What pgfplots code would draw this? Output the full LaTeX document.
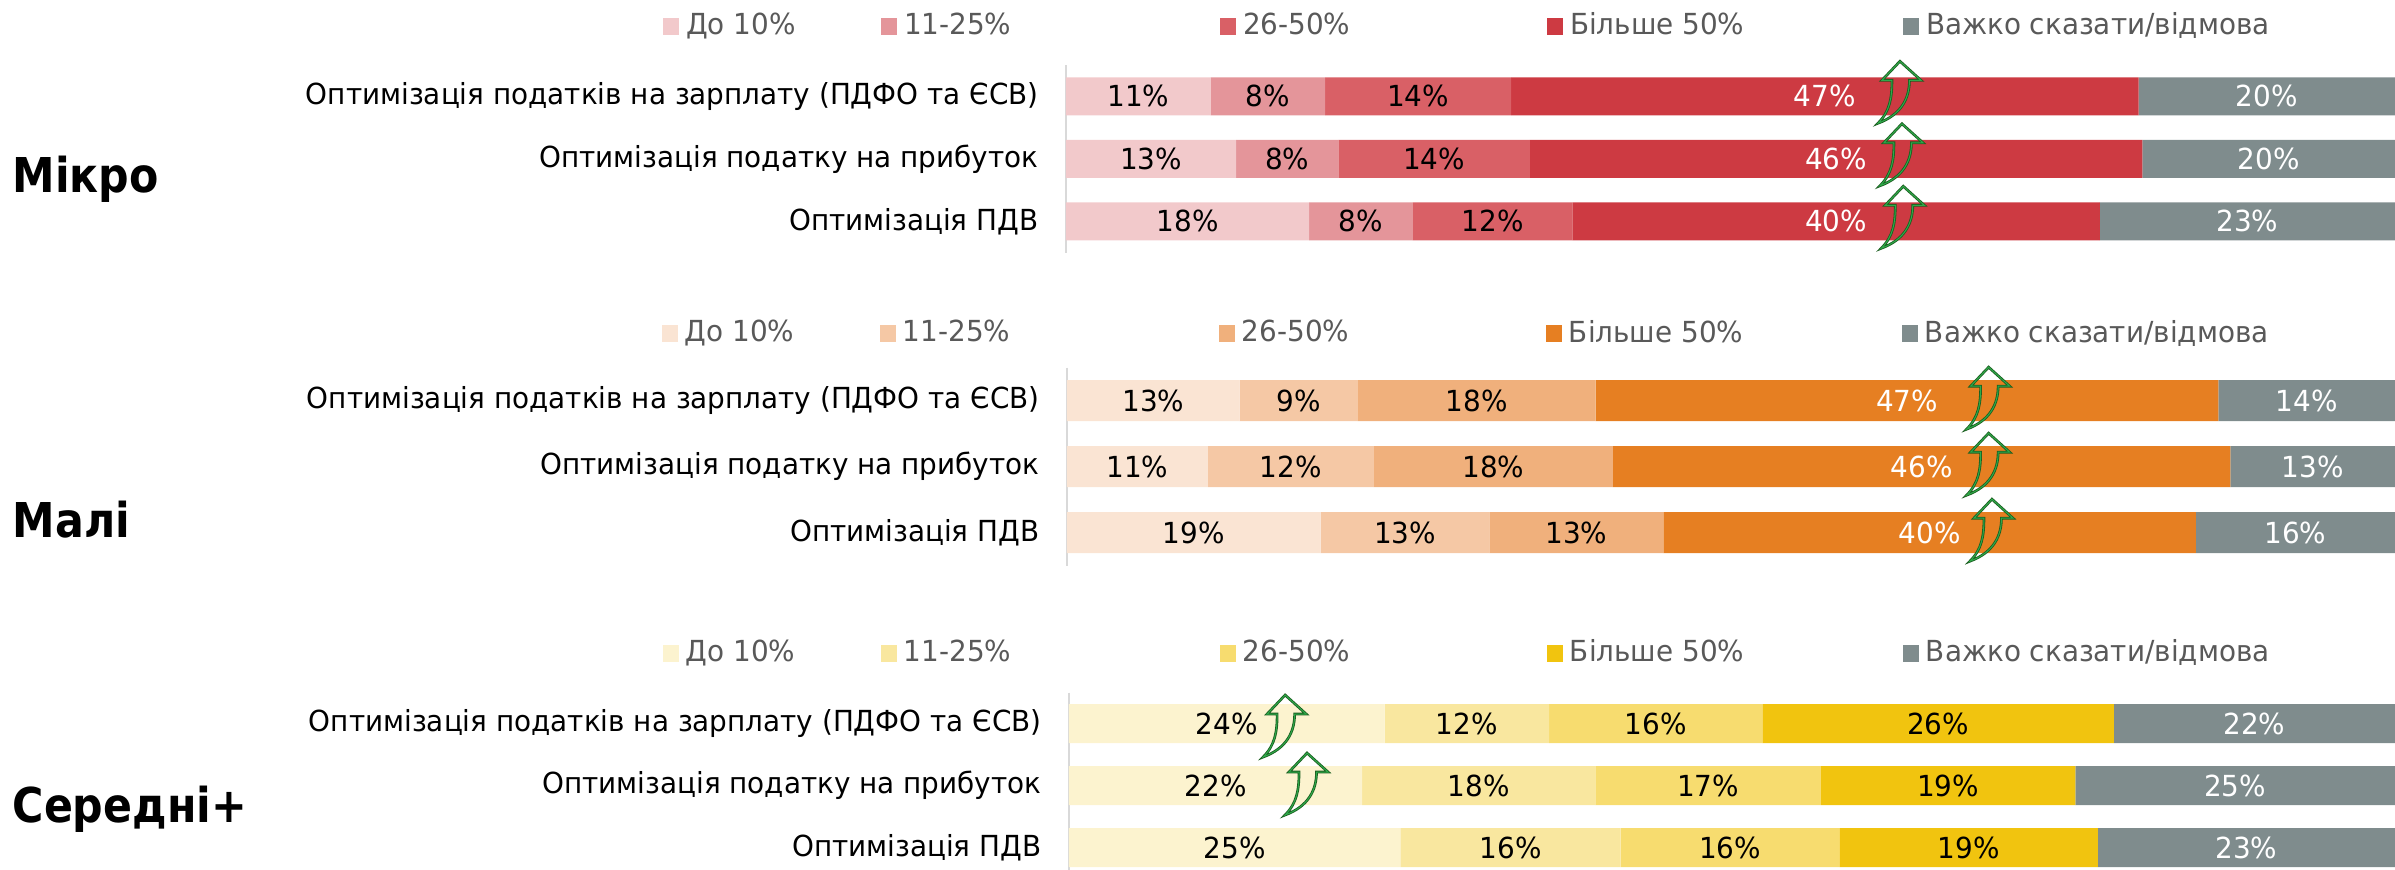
\documentclass[border=0pt]{standalone}
\usepackage{pgfplots}
\pgfplotsset{compat=1.18}
\usepackage{pgfplotstable}
\usepackage{fontspec}
\setmainfont[FakeStretch=0.96]{DejaVu Sans}
\newfontfamily\titlefam[FakeStretch=0.89]{DejaVu Sans}
\newcommand\lbl{\fontsize{8.7pt}{10pt}\selectfont}
\newcommand\ttl{\titlefam\fontsize{14.4pt}{16pt}\selectfont\bfseries}

\definecolor{m1}{HTML}{F2C9CB}\definecolor{m2}{HTML}{E4959A}\definecolor{m3}{HTML}{D96066}\definecolor{m4}{HTML}{CD3A42}
\definecolor{s1}{HTML}{FAE4D3}\definecolor{s2}{HTML}{F5C8A5}\definecolor{s3}{HTML}{F0B07C}\definecolor{s4}{HTML}{E67F22}
\definecolor{y1}{HTML}{FCF3CF}\definecolor{y2}{HTML}{F9E79F}\definecolor{y3}{HTML}{F7DC6F}\definecolor{y4}{HTML}{F1C40F}
\definecolor{gr}{HTML}{7F8C8D}
\definecolor{axisgray}{HTML}{D9D9D9}
\definecolor{legtext}{HTML}{595959}
\definecolor{arrdark}{HTML}{1B5E20}
\definecolor{arrlight}{HTML}{2EAA4A}

\pgfplotstableread{
row a b c d e la lb lc ld le
0 10.9 8.6 14.0 47.2 19.3 11 8 14 47 20
1 12.8 7.7 14.4 46.1 19.0 13 8 14 46 20
2 18.3 7.8 12.0 39.7 22.2 18 8 12 40 23
}\microtab
\pgfplotstableread{
row a b c d e la lb lc ld le
0 13.0 8.9 17.9 46.9 13.3 13 9 18 47 14
1 10.6 12.5 18.0 46.5 12.4 11 12 18 46 13
2 19.1 12.7 13.1 40.1 15.0 19 13 13 40 16
}\smalltab
\pgfplotstableread{
row a b c d e la lb lc ld le
0 23.8 12.4 16.1 26.5 21.2 24 12 16 26 22
1 22.1 17.6 17.0 19.2 24.1 22 18 17 19 25
2 25.0 16.6 16.5 19.5 22.4 25 16 16 19 23
}\mediumtab

% label positions: middle of each stacked segment
\newcommand\addcenters[1]{%
  \pgfplotstablecreatecol[create col/expr={\thisrow{a}/2}]{ca}{#1}%
  \pgfplotstablecreatecol[create col/expr={\thisrow{a}+\thisrow{b}/2}]{cb}{#1}%
  \pgfplotstablecreatecol[create col/expr={\thisrow{a}+\thisrow{b}+\thisrow{c}/2}]{cc}{#1}%
  \pgfplotstablecreatecol[create col/expr={\thisrow{a}+\thisrow{b}+\thisrow{c}+\thisrow{d}/2}]{cd}{#1}%
  \pgfplotstablecreatecol[create col/expr={\thisrow{a}+\thisrow{b}+\thisrow{c}+\thisrow{d}+\thisrow{e}/2}]{ce}{#1}%
}
\addcenters{\microtab}
\addcenters{\smalltab}
\addcenters{\mediumtab}

\tikzset{arr/.style={draw=arrdark, double=arrlight, double distance=0.3pt, line width=0.25pt},
  uparrow/.pic={\draw[arr] (0,0) -- (6.3pt,-5.7pt) -- (2.85pt,-5.7pt)
    .. controls (2.85pt,-11pt) and (0.5pt,-16pt) .. (-6.6pt,-18.6pt)
    .. controls (-3pt,-15pt) and (-2.4pt,-11pt) .. (-2.4pt,-5.7pt)
    -- (-5.4pt,-5.7pt) -- cycle;}}
\pgfplotsset{
  legsq/.style={legend image code/.code={\fill[##1] (0pt,-2.55pt) rectangle (4.8pt,2.55pt);}},
  gm/.style={at={(319.8pt,-19.5pt)}, anchor=north west, width=398.7pt, height=56.25pt, bar width=11.4pt},
  gs/.style={at={(320.1pt,-110.25pt)}, anchor=north west, width=398.4pt, height=59.4pt, bar width=12.3pt},
  gd/.style={at={(320.7pt,-207.75pt)}, anchor=north west, width=397.8pt, height=55.8pt, bar width=11.7pt},
  grp/.style={
    scale only axis, xmin=0, xmax=100, ymin=-0.5, ymax=2.5, y dir=reverse,
    xbar stacked,
    axis lines*=left, x axis line style={draw=none},
    y axis line style={draw=axisgray, line width=0.6pt},
    xtick=\empty, ytick={0,1,2},
    yticklabels={Оптимізація податків на зарплату (ПДФО та ЄСВ),Оптимізація податку на прибуток,Оптимізація ПДВ},
    major tick length=0pt,
    yticklabel style={font=\lbl, text=black, inner sep=0pt, xshift=-8.1pt},
    legend columns=5,
    legend style={anchor=west, draw=none, fill=none, inner sep=0pt, outer sep=0pt,
      column sep=0pt, font=\lbl, text=legtext,
      /tikz/every odd column/.append style={column sep=2.1pt},
      nodes={inner sep=0pt}},
  },
  % overlay axis for the value labels (rows at y = -row)
  lblaxis/.style={scale only axis, xmin=0, xmax=100, ymin=-2.5, ymax=0.5,
    hide axis, clip=false,
    point meta=explicit symbolic,
    nodes near coords={\pgfplotspointmeta\%},
    every node near coord/.append style={font=\lbl, anchor=center, inner sep=0pt}},
  lblplot/.style={only marks, mark=text, text mark={}, every node near coord/.append style={text=#1}},
}
% arrow anchor point in axis coordinates; arrow drawn after the axis
\newcommand\arrpt[3]{\coordinate (#1) at (axis cs:#2,-#3);}
\newcommand\drawarr[2]{\path (#1) ++(0pt,#2) pic {uparrow};}

\newcommand\segplots[5]{%
  \addplot[fill=#2, draw=none, legsq] table[x=a, y=row] {#1};
  \addlegendentry{\makebox[58.5pt][l]{До 10\%}}
  \addplot[fill=#3, draw=none, legsq] table[x=b, y=row] {#1};
  \addlegendentry{\makebox[94.8pt][l]{11-25\%}}
  \addplot[fill=#4, draw=none, legsq] table[x=c, y=row] {#1};
  \addlegendentry{\makebox[91.2pt][l]{26-50\%}}
  \addplot[fill=#5, draw=none, legsq] table[x=d, y=row] {#1};
  \addlegendentry{\makebox[99.9pt][l]{Більше 50\%}}
  \addplot[fill=gr, draw=none, legsq] table[x=e, y=row] {#1};
  \addlegendentry{Важко сказати/відмова}
}
\newcommand\lblplots[2]{%
  \addplot[lblplot=black] table[x=ca, y expr=-\thisrow{row}, meta=la] {#1};
  \addplot[lblplot=black] table[x=cb, y expr=-\thisrow{row}, meta=lb] {#1};
  \addplot[lblplot=black] table[x=cc, y expr=-\thisrow{row}, meta=lc] {#1};
  \addplot[lblplot=#2] table[x=cd, y expr=-\thisrow{row}, meta=ld] {#1};
  \addplot[lblplot=white] table[x=ce, y expr=-\thisrow{row}, meta=le] {#1};
}

\begin{document}
\begin{tikzpicture}
\path[use as bounding box] (0,0) rectangle (718.5pt,-260.7pt);

% Мікро
\begin{axis}[grp, gm, legend style={at={(axis description cs:-0.3032,1.208)}}]
  \segplots{\microtab}{m1}{m2}{m3}{m4}
\end{axis}
\begin{axis}[lblaxis, gm]
  \lblplots{\microtab}{white}
  \arrpt{ma}{62.75}{0}
  \arrpt{mb}{62.9}{1}
  \arrpt{mc}{63.0}{2}
\end{axis}

% Малі
\begin{axis}[grp, gs, legend style={at={(axis description cs:-0.305,1.1717)}}]
  \segplots{\smalltab}{s1}{s2}{s3}{s4}
\end{axis}
\begin{axis}[lblaxis, gs]
  \lblplots{\smalltab}{white}
  \arrpt{sa}{69.4}{0}
  \arrpt{sb}{69.4}{1}
  \arrpt{sc}{69.65}{2}
\end{axis}

% Середні+
\begin{axis}[grp, gd, legend style={at={(axis description cs:-0.3062,1.2124)}}]
  \segplots{\mediumtab}{y1}{y2}{y3}{y4}
\end{axis}
\begin{axis}[lblaxis, gd]
  \lblplots{\mediumtab}{black}
  \arrpt{da}{16.3}{0}
  \arrpt{db}{17.95}{1}
\end{axis}

\drawarr{ma}{10.5pt}\drawarr{mb}{10.5pt}\drawarr{mc}{10.5pt}
\drawarr{sa}{10pt}\drawarr{sb}{10pt}\drawarr{sc}{10pt}
\drawarr{da}{8.55pt}\drawarr{db}{9.75pt}

\node[anchor=base west, font=\ttl, inner sep=0pt] at (3.6pt,-57.6pt) {Мікро};
\node[anchor=base west, font=\ttl, inner sep=0pt] at (3.6pt,-161.1pt) {Малі};
\node[anchor=base west, font=\ttl, inner sep=0pt] at (3.6pt,-246.6pt) {Середні+};
\end{tikzpicture}
\end{document}
